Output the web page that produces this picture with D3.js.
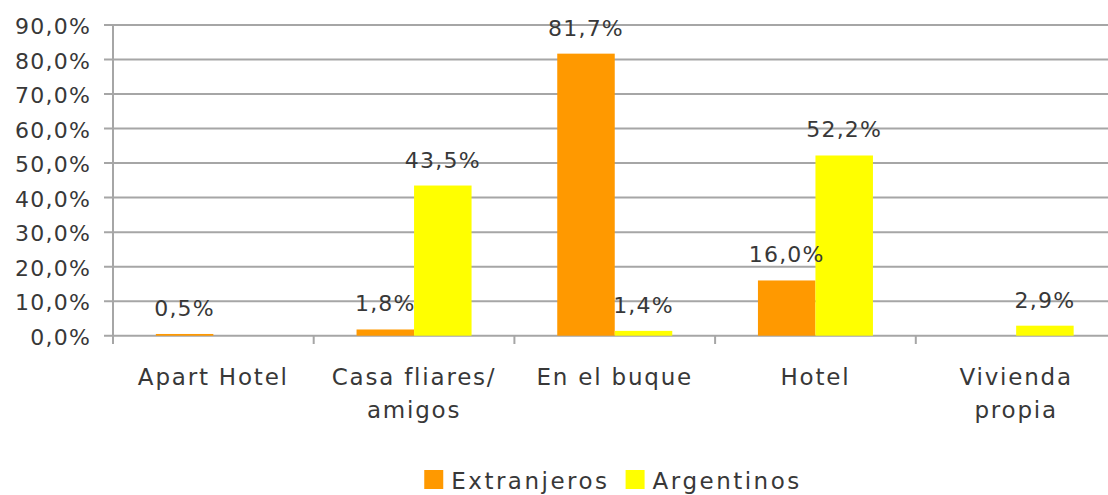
<!DOCTYPE html>
<html><head><meta charset="utf-8">
<script src="https://cdn.jsdelivr.net/npm/d3@7"></script>
<style>
body{margin:0;background:#fff;}
svg text{font-family:"DejaVu Sans",sans-serif;fill:#383838;}
</style></head>
<body><svg id="c" width="1108" height="495"></svg>
<script>
const categories = ["Apart Hotel", "Casa fliares/\namigos", "En el buque", "Hotel", "Vivienda\npropia"];
const series = ["Extranjeros", "Argentinos"];
const extranjeros = [0.5, 1.8, 81.7, 16.0, null];
const argentinos = [null, 43.5, 1.4, 52.2, 2.9];
const yTicks = [0, 10, 20, 30, 40, 50, 60, 70, 80, 90];
const colors = ["#FF9900", "#FFFF00"];
const NUM_FS = "22px";
const NUM_LS = "1.2px";
const TXT_FS = "23px";
const TXT_LS = "1.8px";

const svg = d3.select("#c");
const x0 = d3.scaleBand().domain(categories).range([113, 1116.5]).padding(0);
const x1 = d3.scaleBand().domain(series).range([0, x0.bandwidth()]).paddingInner(0).paddingOuter(0.745);
const y = d3.scaleLinear().domain([0, 90]).range([335.7, 25]);
const fmt = v => v.toFixed(1).replace(".", ",") + "%";

svg.append("g").selectAll("line").data(yTicks).join("line")
  .attr("x1", 104).attr("x2", 1108)
  .attr("y1", d => y(d)).attr("y2", d => y(d))
  .attr("stroke", "#a6a6a6").attr("stroke-width", 2);

const ya = svg.append("g").attr("transform", "translate(113,0)")
  .call(d3.axisLeft(y).tickValues(yTicks).tickSize(0).tickPadding(22).tickFormat(fmt));
ya.select(".domain").remove();
ya.selectAll("text").style("font-size", NUM_FS).attr("fill", "#383838")
  .style("letter-spacing", NUM_LS)
  .style("font-family", "'DejaVu Sans', sans-serif").attr("dy", "0.4em");

svg.append("line").attr("x1", 113).attr("x2", 113).attr("y1", 25).attr("y2", 344)
  .attr("stroke", "#a6a6a6").attr("stroke-width", 2);

const bounds = categories.map(c => x0(c)).concat([x0.range()[1]]);
svg.append("g").selectAll("line").data(bounds).join("line")
  .attr("x1", d => d).attr("x2", d => d).attr("y1", 335).attr("y2", 344)
  .attr("stroke", "#a6a6a6").attr("stroke-width", 2);

const rows = categories.map((c, i) => ({c, vals: [extranjeros[i], argentinos[i]]}));
const groups = svg.append("g").selectAll("g").data(rows).join("g")
  .attr("transform", d => `translate(${x0(d.c)},0)`);
const items = d => d.vals.map((v, j) => ({s: series[j], v, j})).filter(e => e.v !== null);
groups.selectAll("rect").data(items).join("rect")
  .attr("x", d => x1(d.s)).attr("width", x1.bandwidth())
  .attr("y", d => y(d.v)).attr("height", d => y(0) - y(d.v))
  .attr("fill", d => colors[d.j]);
groups.selectAll("text").data(items).join("text")
  .attr("x", d => x1(d.s) + x1.bandwidth() / 2)
  .attr("y", d => y(d.v) - 18)
  .attr("text-anchor", "middle")
  .style("font-size", NUM_FS).style("letter-spacing", NUM_LS)
  .text(d => fmt(d.v));

const cl = svg.append("g").selectAll("text").data(categories).join("text")
  .attr("x", d => x0(d) + x0.bandwidth() / 2)
  .attr("y", 385)
  .attr("text-anchor", "middle")
  .style("font-size", TXT_FS).style("letter-spacing", TXT_LS);
cl.each(function(d) {
  d3.select(this).selectAll("tspan").data(d.split("\n")).join("tspan")
    .attr("x", x0(d) + x0.bandwidth() / 2)
    .attr("dy", (l, i) => i === 0 ? 0 : 33)
    .text(l => l);
});

const lg = svg.append("g");
let cx = 0;
series.forEach((s, i) => {
  const g = lg.append("g");
  g.append("rect").attr("width", 19).attr("height", 19).attr("fill", colors[i]);
  const t = g.append("text").attr("x", 27).attr("y", 19)
    .style("font-size", TXT_FS).style("letter-spacing", "2.5px").text(s);
  const w = 27 + t.node().getComputedTextLength();
  g.attr("transform", `translate(${cx},470)`);
  cx += w + 16;
});
const total = cx - 16;
lg.attr("transform", `translate(${613 - total / 2},0)`);
</script></body></html>
